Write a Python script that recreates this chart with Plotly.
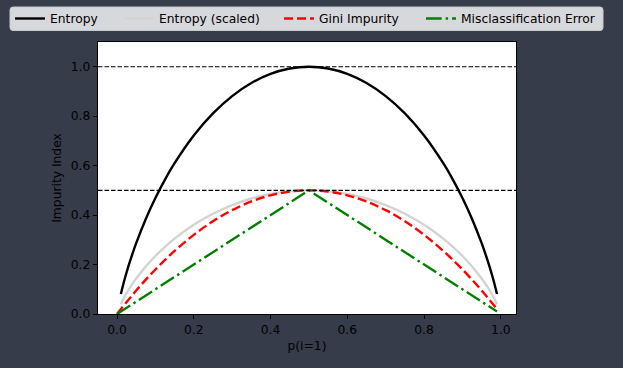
import plotly.graph_objects as go

# ---- data ----
p_ent = [0.01, 0.02, 0.03, 0.04, 0.05, 0.075, 0.10, 0.125, 0.15, 0.20, 0.25, 0.30, 0.35, 0.40, 0.45, 0.50,
         0.55, 0.60, 0.65, 0.70, 0.75, 0.80, 0.85, 0.875, 0.90, 0.925, 0.95, 0.96, 0.97, 0.98, 0.99]
entropy = [0.0808, 0.1414, 0.1944, 0.2423, 0.2864, 0.3843, 0.4690, 0.5436, 0.6098, 0.7219, 0.8113, 0.8813,
           0.9341, 0.9710, 0.9928, 1.0000, 0.9928, 0.9710, 0.9341, 0.8813, 0.8113, 0.7219, 0.6098, 0.5436,
           0.4690, 0.3843, 0.2864, 0.2423, 0.1944, 0.1414, 0.0808]
entropy_scaled = [0.0404, 0.0707, 0.0972, 0.1212, 0.1432, 0.1922, 0.2345, 0.2718, 0.3049, 0.3610, 0.4056,
                  0.4407, 0.4671, 0.4855, 0.4964, 0.5000, 0.4964, 0.4855, 0.4671, 0.4407, 0.4056, 0.3610,
                  0.3049, 0.2718, 0.2345, 0.1922, 0.1432, 0.1212, 0.0972, 0.0707, 0.0404]
p_gini = [0.00, 0.05, 0.10, 0.15, 0.20, 0.25, 0.30, 0.35, 0.40, 0.45, 0.50,
          0.55, 0.60, 0.65, 0.70, 0.75, 0.80, 0.85, 0.90, 0.95, 0.99]
gini = [0.0, 0.095, 0.18, 0.255, 0.32, 0.375, 0.42, 0.455, 0.48, 0.495, 0.50,
        0.495, 0.48, 0.455, 0.42, 0.375, 0.32, 0.255, 0.18, 0.095, 0.0198]
p_err = [0.00, 0.50, 0.99]
misclass = [0.00, 0.50, 0.01]
ref_levels = [0.5, 1.0]
tick_vals = [0.0, 0.2, 0.4, 0.6, 0.8, 1.0]
tick_text = ["0.0", "0.2", "0.4", "0.6", "0.8", "1.0"]
labels = ["Entropy", "Entropy (scaled)", "Gini Impurity", "Misclassification Error"]

BG = "rgb(54,60,74)"
FONT = "DejaVu Sans"
FS = 12.3

# plot area in pixels
W, H = 623, 368
L, R, T, B = 98, 516, 42, 314


def px_x(px):
    return (px - L) / (R - L)


def px_y(py):
    return (B - py) / (B - T)


fig = go.Figure()
series = [
    (p_ent, entropy, "black", "solid", "legend"),
    (p_ent, entropy_scaled, "lightgray", "solid", "legend2"),
    (p_gini, gini, "red", "9.1px,3.9px", "legend3"),
    (p_err, misclass, "green", "15.7px,3.9px,2.5px,3.9px", "legend4"),
]
for (xs, ys, col, dash, lg), lab in zip(series, labels):
    fig.add_trace(go.Scatter(
        x=xs, y=ys, mode="lines", name=lab, legend=lg, showlegend=True,
        line=dict(color=col, width=2.4, dash=dash, shape="spline" if len(xs) > 3 else "linear"),
    ))

for lv in ref_levels:
    fig.add_shape(type="line", xref="paper", yref="y", x0=0, x1=1, y0=lv, y1=lv,
                  line=dict(color="black", width=1.1, dash="4.5px,2px"), layer="above")

# legend frame (rounded rectangle)
lx0, lx1, ly0, ly1, rad = 10, 603, 7, 30.5, 3
rx = rad / (R - L)
ry = rad / (B - T)
X0, X1, Y0, Y1 = px_x(lx0), px_x(lx1), px_y(ly1), px_y(ly0)
frame_path = (f"M {X0 + rx} {Y0} L {X1 - rx} {Y0} Q {X1} {Y0} {X1} {Y0 + ry} "
              f"L {X1} {Y1 - ry} Q {X1} {Y1} {X1 - rx} {Y1} "
              f"L {X0 + rx} {Y1} Q {X0} {Y1} {X0} {Y1 - ry} "
              f"L {X0} {Y0 + ry} Q {X0} {Y0} {X0 + rx} {Y0} Z")
fig.add_shape(type="path", xref="paper", yref="paper", path=frame_path,
              fillcolor="rgb(215,216,219)", line=dict(color="rgb(200,201,204)", width=1), layer="below")

leg_common = dict(orientation="h", bgcolor="rgba(0,0,0,0)", borderwidth=0,
                  font=dict(family=FONT, size=FS, color="black"),
                  xanchor="left", yanchor="middle", y=px_y(18.5), itemwidth=30)
leg_x = [10, 119, 279, 421]

axis_common = dict(showgrid=False, zeroline=False, ticks="outside", ticklen=4.3, tickwidth=1,
                   tickcolor="black", showline=True, mirror=True, linecolor="black", linewidth=1,
                   tickvals=tick_vals, ticktext=tick_text,
                   tickfont=dict(family=FONT, size=FS, color="black"))

fig.update_layout(
    width=W, height=H,
    showlegend=True,
    paper_bgcolor=BG, plot_bgcolor="white",
    margin=dict(l=L, r=W - R, t=T, b=H - B, autoexpand=False),
    font=dict(family=FONT, size=FS, color="black"),
    xaxis=dict(range=[-0.0495, 1.0395], title=dict(text="p(i=1)", standoff=5,
               font=dict(family=FONT, size=FS, color="black")), automargin=False, **axis_common),
    yaxis=dict(range=[0, 1.1], title=dict(text="Impurity Index", standoff=6,
               font=dict(family=FONT, size=FS, color="black")), automargin=False, **axis_common),
    legend=dict(x=px_x(leg_x[0]), **leg_common),
    legend2=dict(x=px_x(leg_x[1]), **leg_common),
    legend3=dict(x=px_x(leg_x[2]), **leg_common),
    legend4=dict(x=px_x(leg_x[3]), **leg_common),
)

fig.write_html("out.html", config={"displayModeBar": False},
               post_script="document.body.style.margin='0';document.body.style.background='" + BG + "';")
